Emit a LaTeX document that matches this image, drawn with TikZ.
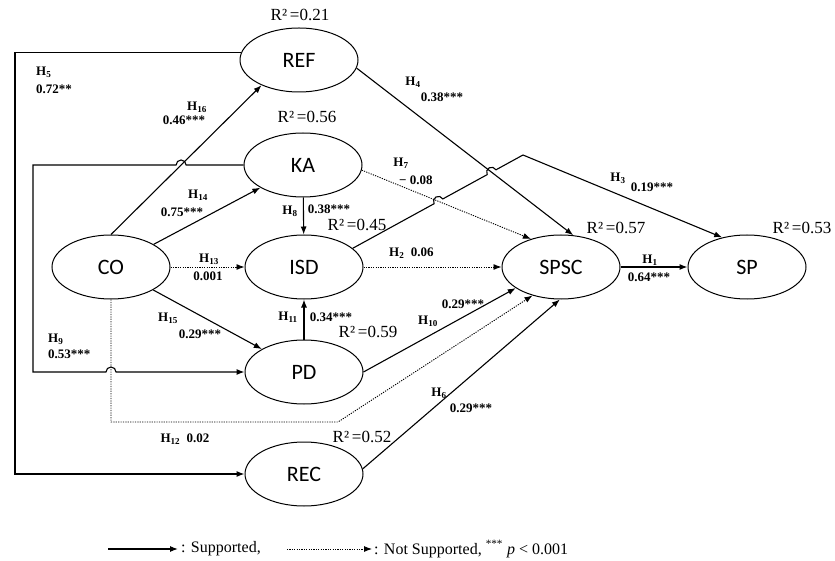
\documentclass[tikz,border=0pt]{standalone}
\usepackage{fontspec}
\setmainfont{Liberation Serif}
\newfontfamily\nodefont{Carlito}
\usetikzlibrary{arrows.meta,shapes.geometric,calc}
\begin{document}
\begin{tikzpicture}[x=1pt,y=1pt,
  var/.style={ellipse,draw,line width=1pt,minimum width=118pt,minimum height=64pt,inner sep=0pt,font=\nodefont\fontsize{22}{22}\selectfont},
  sup/.style={line width=1.1pt,-{Latex[length=8pt,width=6pt]}},
  nsup/.style={line width=0.9pt,dash pattern=on 1.2pt off 1.2pt,-{Latex[length=8pt,width=6pt]}},
  lab/.style={font=\fontsize{13}{13}\selectfont\bfseries,inner sep=1pt},
  rsq/.style={font=\fontsize{17}{17}\selectfont,inner sep=1pt},
  leg/.style={font=\fontsize{16}{16}\selectfont,inner sep=1pt}]
\useasboundingbox (0,0) rectangle (835,-561);
% variables
\node[var] (REF) at (299,-60) {REF};
\node[var] (KA) at (303,-165) {KA};
\node[var] (CO) at (111,-267) {CO};
\node[var] (ISD) at (304,-267) {ISD};
\node[var] (PD) at (304,-372) {PD};
\node[var] (REC) at (304,-474) {REC};
\node[var] (SPSC) at (561,-267) {SPSC};
\node[var] (SP) at (747,-267) {SP};
% helper coordinates
\coordinate (k1) at (523,-155);
\coordinate (xA) at (intersection of CO.north--REF.214 and KA.west--KA.east);
\coordinate (xB) at (intersection of ISD.21--k1 and KA.-5--SPSC.137);
\coordinate (xC) at (intersection of ISD.21--k1 and REF.-8--SPSC.69);
\coordinate (xD) at (CO.south |- PD.west);
\coordinate (c1) at (15,-474);
\coordinate (c2) at (33,-165);
\coordinate (c3) at (33,-372);
\coordinate (c4) at (111,-422);
\coordinate (c5) at (338,-422);
% connectors
\draw[sup] (REF.173) -| (c1) -- (REC.west);
\draw[sup] (KA.west) -- ([xshift=5pt]xA) arc[start angle=0,end angle=180,radius=5pt] -- (c2) -- (c3) -- ([xshift=-5pt]xD) arc[start angle=180,end angle=0,radius=5pt] -- (PD.west);
\draw[sup] (CO.north) -- (REF.214);
\draw[sup] (CO) -- (KA);
\draw[nsup] (CO) -- (ISD);
\draw[sup] (CO) -- (PD);
\draw[nsup] (CO.south) -- (c4) -- (c5) -- (SPSC.225);
\draw[sup] (KA) -- (ISD);
\draw[sup] (PD) -- (ISD);
\draw[nsup] (KA.-5) -- (SPSC.137);
\draw[sup] (REF.-8) -- (SPSC.69);
\draw[nsup] (ISD) -- (SPSC);
\draw[sup] (PD.east) -- (SPSC.205);
\draw[sup] (REC.5) -- (SPSC.268);
\draw[sup] (SPSC) -- (SP);
\draw[sup] (ISD.21) -- ($(xB)!5pt!(ISD.21)$) arc[start angle=208.7,end angle=28.7,radius=5pt]
   -- ($(xC)!5pt!(ISD.21)$) arc[start angle=208.7,end angle=28.7,radius=5pt] -- (k1) -- (SP.130);
% path labels
\node[lab,anchor=west] (h5) at (35,-72) {H\textsubscript{5}};
\node[lab,anchor=west] (v5) at (35,-89) {0.72**};
\node[lab] (h16) at (197,-107) {H\textsubscript{16}};
\node[lab] (v16) at (184,-120) {0.46***};
\node[lab] (h14) at (198,-195) {H\textsubscript{14}};
\node[lab] (v14) at (182,-212) {0.75***};
\node[lab] (h13) at (209,-259) {H\textsubscript{13}};
\node[lab] (v13) at (208,-276) {0.001};
\node[lab] (h15) at (168,-318) {H\textsubscript{15}};
\node[lab] (v15) at (200,-334) {0.29***};
\node[lab,anchor=west] (h9) at (47,-339) {H\textsubscript{9}};
\node[lab,anchor=west] (v9) at (47,-354) {0.53***};
\node[lab] (h12) at (185,-439) {H\textsubscript{12}\ \ 0.02};
\node[lab] (h8) at (290,-211) {H\textsubscript{8}};
\node[lab] (v8) at (329,-209) {0.38***};
\node[lab] (h11) at (288,-317) {H\textsubscript{11}};
\node[lab] (v11) at (331,-317) {0.34***};
\node[lab] (h7) at (401,-163) {H\textsubscript{7}};
\node[lab,anchor=west] (v7) at (398,-180) {−\ 0.08};
\node[lab] (h4) at (413,-82) {H\textsubscript{4}};
\node[lab] (v4) at (442,-97) {0.38***};
\node[lab] (h3) at (618,-178) {H\textsubscript{3}};
\node[lab] (v3) at (652,-187) {0.19***};
\node[lab,anchor=west] (h2) at (388,-253) {H\textsubscript{2}\ \ 0.06};
\node[lab] (h10) at (428,-321) {H\textsubscript{10}};
\node[lab] (v10) at (463,-304) {0.29***};
\node[lab] (h6) at (439,-393) {H\textsubscript{6}};
\node[lab] (v6) at (471,-408) {0.29***};
\node[lab] (h1) at (650,-260) {H\textsubscript{1}};
\node[lab] (v1) at (649,-277) {0.64***};
% R-squared labels
\node[rsq] (r1) at (300,-15) {R²\,=0.21};
\node[rsq] (r2) at (307,-117) {R²\,=0.56};
\node[rsq] (r3) at (357,-225) {R²\,=0.45};
\node[rsq] (r4) at (368,-332) {R²\,=0.59};
\node[rsq] (r5) at (616,-228) {R²\,=0.57};
\node[rsq] (r6) at (802,-228) {R²\,=0.53};
\node[rsq] (r7) at (362,-437) {R²\,=0.52};
% legend
\coordinate (l1) at (108,-549);
\coordinate (l2) at (178,-549);
\coordinate (l3) at (287,-549);
\coordinate (l4) at (372,-549);
\draw[sup] (l1) -- (l2);
\node[leg,anchor=west] (lt1) at (180,-549) {: Supported,};
\draw[nsup] (l3) -- (l4);
\node[leg,anchor=west] (lt2) at (373,-549) {: Not Supported, \textsuperscript{***} \textit{p} < 0.001};
\end{tikzpicture}
\end{document}
